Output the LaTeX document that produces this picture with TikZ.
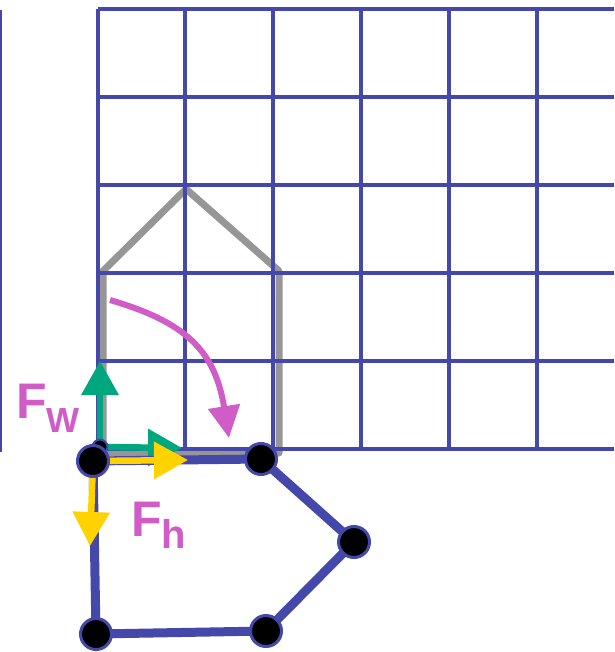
\documentclass[tikz,border=0pt]{standalone}
\usepackage{fontspec}
\setmainfont{Liberation Sans}
\usetikzlibrary{positioning,arrows.meta}

\definecolor{gridblue}{RGB}{68,72,170}
\definecolor{housegray}{RGB}{150,150,150}
\definecolor{basisgreen}{RGB}{0,166,126}
\definecolor{basisyellow}{RGB}{255,210,0}
\definecolor{warpmagenta}{RGB}{208,92,200}

\begin{document}
\begin{tikzpicture}[x=1pt,y=-1pt,
    gridline/.style={gridblue, line width=4.5pt},
    house/.style={draw=housegray, line width=7pt, line join=round},
    poly/.style={draw=gridblue, line width=9pt, line join=round},
    vertex/.style={circle, fill=black, draw=gridblue, line width=3pt, minimum size=31pt, inner sep=0pt},
    smalldot/.style={circle, fill=black, draw=gridblue, line width=2pt, minimum size=15pt, inner sep=0pt},
    basis/.style={line width=6.5pt, -{Triangle[length=34pt,width=36pt]}},
    warp/.style={warpmagenta, line width=6pt, -{Triangle[length=32pt,width=31pt]}},
    lbl/.style={text=warpmagenta, font=\bfseries\fontsize{50}{50}\selectfont, inner sep=0pt}
]
\useasboundingbox (0,0) rectangle (614,652);

% house shape (before warp)
\draw[house] (103,453) -- (103,271) -- (186,189) -- (279,271) -- (279,453) -- cycle;

% grid
\foreach \x in {98,185,273,361,449,537}
  \draw[gridline] (\x,9) -- (\x,449);
\foreach \y in {9,97,185,273,361,449}
  \draw[gridline] (98,\y) -- (614,\y);
\draw[gridline] (0,10) -- (0,452);

% warp arrow
\coordinate (ws) at (110,300);
\coordinate (we) at (229,438);
\draw[warp] (ws) .. controls (185,322) and (215,350) .. (we);

% basis of the grid
\coordinate (o) at (100,447);
\coordinate (gw) at (100,361);
\coordinate (gh) at (182,448);
\draw[basis, basisgreen] (o) -- (gw);
\draw[basis, basisgreen] (o) -- (gh);
\node[smalldot] (od) at (o) {};

% warped polygon
\coordinate (p1) at (93,461);
\coordinate (p2) at (261,459);
\coordinate (p3) at (354,542);
\coordinate (p4) at (266,631);
\coordinate (p5) at (96,634);
\draw[poly] (p1) -- (p2) -- (p3) -- (p4) -- (p5) -- cycle;

% basis of the polygon
\coordinate (yh) at (188,460);
\coordinate (yw) at (90,546);
\draw[basis, basisyellow] (p1) -- (yh);
\draw[basis, basisyellow] (p1) -- (yw);

\foreach \i in {1,...,5}
  \node[vertex] (v\i) at (p\i) {};

% labels
\node[lbl, anchor=base west] (fw) at (16,418) {F\raisebox{-14pt}{\fontsize{35}{35}\selectfont W}};
\node[lbl, anchor=base west] (fh) at (131,536) {F\raisebox{-12pt}{\fontsize{40}{40}\selectfont h}};
\end{tikzpicture}
\end{document}
